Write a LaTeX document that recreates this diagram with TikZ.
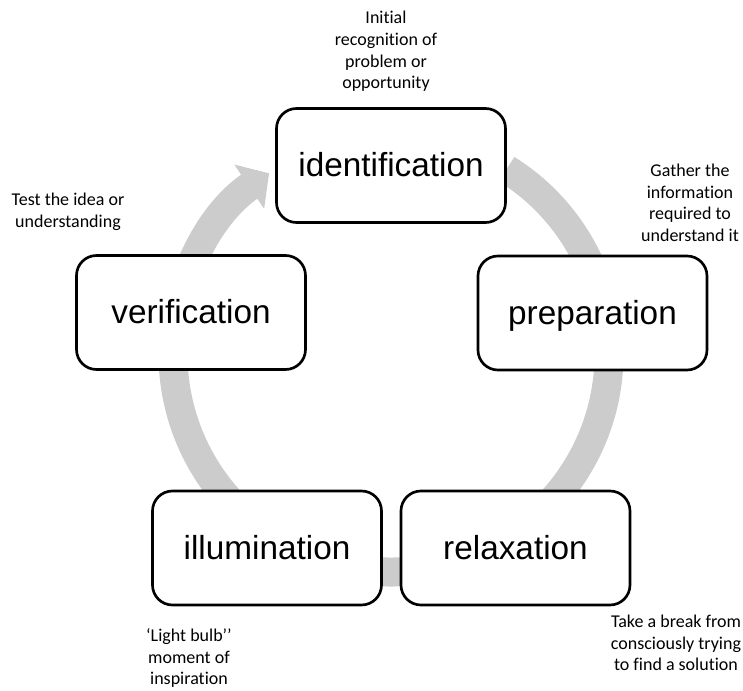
\documentclass[tikz,border=0pt]{standalone}
\usepackage{fontspec}
\setmainfont{Liberation Sans}
\newfontfamily\notefont[Ligatures={TeX,NoCommon}]{Carlito}
\usetikzlibrary{arrows.meta,positioning}
\definecolor{ringgray}{RGB}{204,204,204}

\begin{document}
\begin{tikzpicture}[x=0.75pt,y=-0.75pt,
  stagebox/.style={draw=black,line width=2pt,rounded corners=15pt,fill=white,
    minimum width=171.75pt,minimum height=85.5pt,inner sep=0pt,
    text height=18pt,text depth=1pt,font=\fontsize{25}{30}\selectfont},
  note/.style={align=center,inner sep=0pt,
    font=\notefont\fontsize{13.5}{16.2}\selectfont}]
\useasboundingbox (0,0) rectangle (743,691);

% Cycle arrow behind the stages
\coordinate (ringc) at (391,354);
\draw[ringgray,line width=21.75pt,-{Triangle[length=18pt,width=39pt]}]
  ([shift={(58:163.5pt)}]ringc) arc[start angle=58,end angle=-236,radius=163.5pt];

% Stages
\node[stagebox] (ident) at (391,165.5) {identification};
\node[stagebox] (prep) at (592.5,313) {preparation};
\node[stagebox] (relax) at (515.5,548) {relaxation};
\node[stagebox] (illum) at (267,548) {illumination};
\node[stagebox] (verif) at (191,312.5) {verification};

% Notes
\node[note] (identnote) at (386,51.5) {Initial\\recognition of\\problem or\\opportunity};
\node[note] (prepnote) at (690,203) {Gather the\\information\\required to\\understand it};
\node[note] (relaxnote) at (676,643) {Take a break from\\consciously trying\\to find a solution};
\node[note] (illumnote) at (189,658) {‘Light bulb’’\\moment of\\inspiration};
\node[note] (verifnote) at (68,212) {Test the idea or\\understanding};

\end{tikzpicture}
\end{document}
